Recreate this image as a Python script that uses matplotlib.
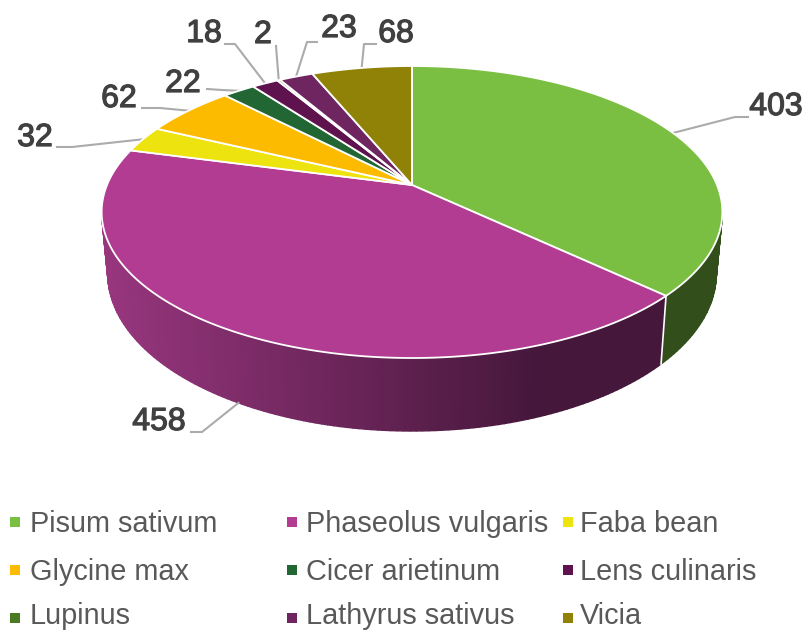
import matplotlib
matplotlib.use("Agg")
import matplotlib.pyplot as plt
import matplotlib.patheffects as pe
import numpy as np
from matplotlib.colors import to_rgb

plt.rcParams["font.family"] = ["Liberation Sans", "DejaVu Sans"]

species = ["Pisum sativum", "Phaseolus vulgaris", "Faba bean", "Glycine max", "Cicer arietinum",
           "Lens culinaris", "Lupinus", "Lathyrus sativus", "Vicia"]
counts = [403, 458, 32, 62, 22, 18, 2, 23, 68]
colors = ["#7BBF42", "#B13C92", "#EDE30F", "#FDBB00", "#226634", "#5E134E", "#4C7A22", "#6E2560", "#8F8207"]

# perspective of the disc, in pixels
CX, K = 412, 0.185
TOP = dict(ax=305, by=141, y0=185)
LOW = dict(ax=299, by=152, y0=244.5)
SILH = np.degrees(np.arccos(-K))  # angle where the side wall starts to show

# label centre, then leader line points (rim end comes from the wedge itself)
label_xy = [(776, 107), (159, 422), (35, 138), (119, 99), (183, 84), (204, 34), (263, 35), (339, 29), (396, 34)]
leaders = [[(748, 117), (735, 117)], [(191, 432), (202, 432)], [(57, 147), (72, 147)], [(142, 108), (160, 108)],
           [(207, 89), (222, 90)], [(225, 44), (235, 44)], [(276, 46)], [(317, 42), (307, 42)], [(376, 44), (364, 44)]]
legend_x = [(15, 30), (292, 306), (568, 580)]
legend_y = [522, 570, 618]
legend_text_y = [524, 572, 616]  # last row nudged up so the descenders stay inside the picture


def project(theta, p):
    t = np.radians(theta)
    X, Y = np.sin(t), -np.cos(t)
    d = 1 - K * Y
    return CX + p["ax"] * X / d, p["y0"] + p["by"] * Y / d


def side_color(c, x, i):
    if i == 1:  # the big wedge has the visible light falloff
        rgb0, rgb1 = np.array(to_rgb("#98367E")), np.array(to_rgb("#45173B"))
        f = np.clip((x - 105) / (539 - 105), 0, 1)
        return rgb0 + (rgb1 - rgb0) * f
    return np.array(to_rgb(c)) * 0.41


fig = plt.figure(figsize=(8.05, 6.31), dpi=100)
ax = fig.add_axes([0, 0, 1, 1])
ax.set_xlim(0, 805)
ax.set_ylim(631, 0)
ax.axis("off")

edges = np.concatenate([[0], np.cumsum(counts)]) / sum(counts) * 360

# side wall
for i, c in enumerate(colors):
    a0, a1 = max(edges[i], SILH), min(edges[i + 1], 360 - SILH)
    if a1 <= a0:
        continue
    th = np.linspace(a0, a1, int(a1 - a0) + 2)
    for t0, t1 in zip(th[:-1], th[1:]):
        x0, y0 = project(t0, TOP)
        x1, y1 = project(t1, TOP)
        x2, y2 = project(t1, LOW)
        x3, y3 = project(t0, LOW)
        col = side_color(c, (x0 + x1 + x2 + x3) / 4, i)
        ax.fill([x0, x1, x2, x3], [y0, y1, y2, y3], color=col, lw=1.0, zorder=1)

# white seam between the two visible side walls
xa, ya = project(edges[1], TOP)
xb, yb = project(edges[1], LOW)
ax.plot([xa, xb], [ya, yb], color="white", lw=1.2, zorder=2)

# top face
for i, c in enumerate(colors):
    th = np.linspace(edges[i], edges[i + 1], max(int(edges[i + 1] - edges[i]) * 2, 4))
    x, y = project(th, TOP)
    ax.fill(np.r_[CX, x], np.r_[TOP["y0"], y], facecolor=c, edgecolor="white", lw=1.3, zorder=3)

# data labels and leaders
for i, n in enumerate(counts):
    rim = project((edges[i] + edges[i + 1]) / 2, TOP if i != 1 else LOW)
    pts = leaders[i] + [rim]
    ax.plot([p[0] for p in pts], [p[1] for p in pts], color="#ABABAB", lw=1.5, zorder=2.5)
    ax.text(label_xy[i][0], label_xy[i][1], str(n), fontsize=23, color="#404040", ha="center", va="center", zorder=5,
            path_effects=[pe.withStroke(linewidth=0.9, foreground="#404040")])

# legend, filled row by row
for i, (name, c) in enumerate(zip(species, colors)):
    row, col = i // 3, i % 3
    ax.scatter(legend_x[col][0], legend_y[row], s=52, marker="s", color=c, linewidths=0, zorder=5)
    ax.text(legend_x[col][1], legend_text_y[row], name, fontsize=20.8, color="#595959", ha="left", va="center")

fig.savefig("out.png", dpi=100)
